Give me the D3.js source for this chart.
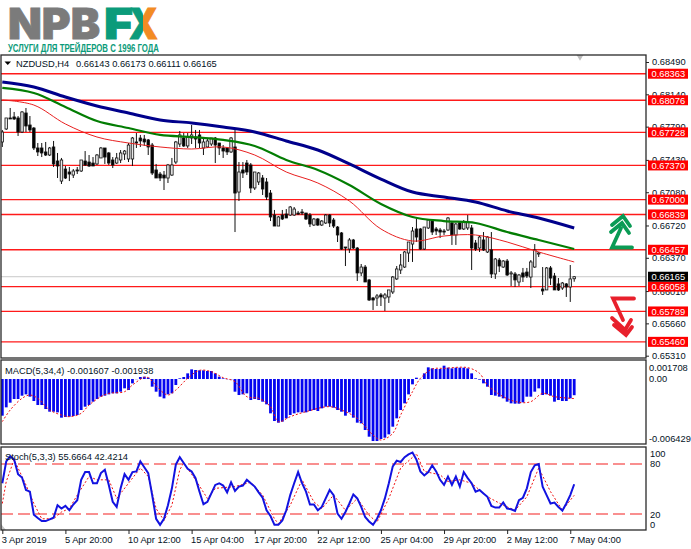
<!DOCTYPE html>
<html>
<head>
<meta charset="utf-8">
<script src="https://cdn.jsdelivr.net/npm/d3@7"></script>
<style>
  body { margin: 0; background: #fff; }
  text { font-family: "Liberation Sans", Arial, sans-serif; }
</style>
</head>
<body>
<div id="chart"></div>
<script>
const candleOpen = [
  0.67624,0.67765,0.67884,0.67895,0.67884,0.67732,0.67938,0.67808,0.67775,0.67559,
  0.67559,0.67516,0.67483,0.67570,0.67418,0.67201,0.67331,0.67299,0.67266,0.67321,
  0.67310,0.67418,0.67407,0.67396,0.67386,0.67451,0.67559,0.67505,0.67429,0.67396,
  0.67429,0.67494,0.67440,0.67440,0.67624,0.67667,0.67656,0.67646,0.67591,0.67321,
  0.67277,0.67266,0.67234,0.67266,0.67407,0.67602,0.67667,0.67581,0.67667,0.67678,
  0.67700,0.67559,0.67570,0.67602,0.67667,0.67613,0.67559,0.67559,0.67516,0.67570,
  0.67082,0.67321,0.67396,0.67375,0.67126,0.67191,0.67234,0.67191,0.67071,0.66833,
  0.66714,0.66833,0.66844,0.66833,0.66833,0.66855,0.66866,0.66855,0.66833,0.66725,
  0.66790,0.66725,0.66747,0.66833,0.66779,0.66703,0.66639,0.66487,0.66465,0.66563,
  0.66476,0.66206,0.66270,0.66130,0.65935,0.65935,0.65968,0.65935,0.65946,0.66000,
  0.66141,0.66238,0.66270,0.66422,0.66519,0.66682,0.66682,0.66465,0.66693,0.66768,
  0.66682,0.66671,0.66660,0.66671,0.66747,0.66617,0.66747,0.66682,0.66693,0.66693,
  0.66530,0.66476,0.66563,0.66433,0.66455,0.66195,0.66346,0.66270,0.66335,0.66195,
  0.66195,0.66108,0.66206,0.66216,0.66162,0.66270,0.66411,0.66032,0.66022,0.66260,
  0.66173,0.66087,0.66043,0.66087,0.66054,0.66143];
const candleHigh = [
  0.67754,0.67884,0.67992,0.67949,0.67905,0.67959,0.67992,0.67905,0.67786,0.67613,
  0.67613,0.67624,0.67570,0.67635,0.67505,0.67451,0.67364,0.67353,0.67331,0.67353,
  0.67429,0.67526,0.67483,0.67461,0.67494,0.67570,0.67559,0.67516,0.67461,0.67505,
  0.67537,0.67537,0.67613,0.67678,0.67721,0.67700,0.67700,0.67656,0.67613,0.67386,
  0.67299,0.67310,0.67386,0.67451,0.67635,0.67743,0.67721,0.67721,0.67808,0.67754,
  0.67754,0.67667,0.67667,0.67667,0.67678,0.67613,0.67591,0.67570,0.67678,0.67754,
  0.67407,0.67407,0.67429,0.67396,0.67299,0.67299,0.67266,0.67234,0.67104,0.66888,
  0.66823,0.66888,0.66898,0.66931,0.66920,0.66877,0.66898,0.66855,0.66855,0.66801,
  0.66801,0.66779,0.66844,0.66844,0.66801,0.66714,0.66649,0.66487,0.66584,0.66574,
  0.66487,0.66303,0.66292,0.66141,0.65946,0.65978,0.65989,0.65989,0.66022,0.66173,
  0.66281,0.66411,0.66444,0.66541,0.66703,0.66790,0.66693,0.66703,0.66790,0.66779,
  0.66703,0.66693,0.66682,0.66812,0.66768,0.66747,0.66768,0.66779,0.66833,0.66725,
  0.66563,0.66606,0.66649,0.66606,0.66649,0.66368,0.66368,0.66346,0.66357,0.66227,
  0.66216,0.66195,0.66260,0.66260,0.66346,0.66519,0.66433,0.66270,0.66270,0.66281,
  0.66206,0.66151,0.66108,0.66097,0.66292,0.66173];
const candleLow = [
  0.67570,0.67754,0.67873,0.67862,0.67689,0.67721,0.67732,0.67732,0.67537,0.67472,
  0.67461,0.67472,0.67472,0.67353,0.67234,0.67169,0.67223,0.67201,0.67234,0.67277,
  0.67299,0.67364,0.67353,0.67364,0.67375,0.67451,0.67386,0.67375,0.67342,0.67386,
  0.67396,0.67429,0.67407,0.67364,0.67559,0.67570,0.67581,0.67483,0.67266,0.67234,
  0.67201,0.67104,0.67180,0.67256,0.67386,0.67570,0.67570,0.67559,0.67602,0.67559,
  0.67559,0.67483,0.67559,0.67581,0.67396,0.67483,0.67451,0.67483,0.67505,0.66649,
  0.66985,0.67234,0.67266,0.67071,0.67104,0.67158,0.67050,0.66996,0.66768,0.66714,
  0.66714,0.66779,0.66801,0.66823,0.66823,0.66833,0.66833,0.66779,0.66703,0.66714,
  0.66714,0.66714,0.66736,0.66703,0.66693,0.66541,0.66455,0.66281,0.66422,0.66465,
  0.66119,0.66173,0.66108,0.65902,0.65805,0.65848,0.65848,0.65794,0.65881,0.65978,
  0.66130,0.66195,0.66260,0.66325,0.66325,0.66541,0.66455,0.66455,0.66682,0.66617,
  0.66617,0.66584,0.66617,0.66660,0.66509,0.66509,0.66671,0.66671,0.66671,0.66238,
  0.66444,0.66433,0.66444,0.66422,0.66151,0.66141,0.66216,0.66260,0.66173,0.66065,
  0.66054,0.66065,0.66108,0.66151,0.66043,0.66260,0.66379,0.65968,0.66022,0.66076,
  0.66022,0.66011,0.66022,0.65946,0.65892,0.66111];
const candleClose = [
  0.67732,0.67884,0.67873,0.67873,0.67732,0.67949,0.67797,0.67754,0.67559,0.67516,
  0.67505,0.67483,0.67559,0.67386,0.67364,0.67429,0.67234,0.67277,0.67310,0.67310,
  0.67429,0.67375,0.67364,0.67364,0.67483,0.67559,0.67461,0.67396,0.67375,0.67451,
  0.67505,0.67526,0.67591,0.67667,0.67613,0.67635,0.67624,0.67570,0.67288,0.67234,
  0.67234,0.67234,0.67375,0.67375,0.67624,0.67700,0.67581,0.67678,0.67700,0.67656,
  0.67613,0.67624,0.67635,0.67667,0.67591,0.67559,0.67526,0.67516,0.67667,0.67071,
  0.67299,0.67288,0.67299,0.67126,0.67299,0.67288,0.67115,0.67028,0.66812,0.66714,
  0.66812,0.66790,0.66801,0.66920,0.66898,0.66844,0.66855,0.66790,0.66736,0.66790,
  0.66725,0.66768,0.66833,0.66747,0.66714,0.66617,0.66465,0.66476,0.66563,0.66476,
  0.66206,0.66270,0.66108,0.65913,0.65913,0.65957,0.65946,0.65968,0.66022,0.66162,
  0.66249,0.66292,0.66433,0.66541,0.66660,0.66595,0.66465,0.66703,0.66779,0.66649,
  0.66660,0.66649,0.66649,0.66801,0.66617,0.66736,0.66682,0.66758,0.66758,0.66476,
  0.66465,0.66595,0.66455,0.66595,0.66195,0.66357,0.66281,0.66335,0.66184,0.66206,
  0.66130,0.66184,0.66162,0.66173,0.66325,0.66455,0.66422,0.66011,0.66260,0.66151,
  0.66022,0.66022,0.66097,0.66054,0.66141,0.66165];

// moving averages read at every 8th bar
const maBars = [0,8,16,24,32,40,48,56,64,72,80,88,96,104,112,120,128,136,145];
const maBlue = [0.68273,0.68219,0.68111,0.68014,0.67938,0.67862,0.67830,0.67786,0.67732,0.67635,0.67537,0.67386,0.67223,0.67082,0.67028,0.66974,0.66877,0.66801,0.66693];
const maGreen = [0.68209,0.68154,0.68003,0.67851,0.67775,0.67700,0.67678,0.67646,0.67581,0.67429,0.67321,0.67158,0.66953,0.66812,0.66768,0.66747,0.66649,0.66563,0.66465];
const maRed = [0.68079,0.68024,0.67819,0.67678,0.67613,0.67570,0.67548,0.67570,0.67483,0.67299,0.67180,0.66985,0.66682,0.66552,0.66606,0.66617,0.66541,0.66433,0.66325];

const levels = [0.68363,0.68076,0.67728,0.67370,0.67000,0.66839,0.66457,0.66058,0.65789,0.65460];
const priceTicks = [0.68490,0.68140,0.67790,0.67430,0.67080,0.66720,0.66370,0.66010,0.65660,0.65310];
const lastPrice = 0.66165;

const macdHist = [
  -0.003639,-0.002812,-0.002349,-0.001985,-0.001985,-0.001654,-0.001522,-0.001753,-0.002183,-0.002580,
  -0.002580,-0.002977,-0.003242,-0.003242,-0.003308,-0.003837,-0.003771,-0.003738,-0.003672,-0.003573,
  -0.003076,-0.002746,-0.002580,-0.002249,-0.001985,-0.001753,-0.001654,-0.001522,-0.001422,-0.001422,
  -0.001257,-0.000926,-0.001092,-0.000430,-0.000020,0.000198,0.000232,0.000132,-0.000761,-0.001257,
  -0.001753,-0.001919,-0.001522,-0.001422,-0.000595,0.000066,0.000198,0.000562,0.000959,0.000893,
  0.000860,0.000860,0.000794,0.000794,0.000562,0.000232,0.000066,-0.000020,-0.000033,-0.001257,
  -0.001588,-0.001522,-0.001422,-0.002084,-0.001985,-0.002084,-0.002249,-0.002514,-0.003407,-0.004168,
  -0.004333,-0.004234,-0.003903,-0.003573,-0.003407,-0.003308,-0.003308,-0.003308,-0.003176,-0.003076,
  -0.003176,-0.002911,-0.002746,-0.002746,-0.002845,-0.003076,-0.003242,-0.003639,-0.003308,-0.003837,
  -0.004333,-0.004399,-0.005061,-0.005723,-0.006153,-0.006153,-0.005954,-0.005822,-0.005491,-0.004730,
  -0.003903,-0.003076,-0.002415,-0.001522,-0.000529,0.000132,-0.000020,0.000562,0.001158,0.001059,
  0.000992,0.000992,0.001323,0.001125,0.001059,0.001125,0.001125,0.001125,0.001059,0.000562,
  0.000066,-0.000066,-0.000430,-0.000761,-0.001588,-0.001654,-0.001753,-0.001919,-0.002249,-0.002415,
  -0.002448,-0.002448,-0.002316,-0.001753,-0.001753,-0.001257,-0.000926,-0.001588,-0.001522,-0.001654,
  -0.002249,-0.002084,-0.002183,-0.002183,-0.001919,-0.001607];
const macdSignalBars = [0,2,5,7,9,12,15,17,20,22,25,27,31,33,36,37,40,42,44,47,50,53,56,59,62,65,68,70,73,77,83,87,90,94,96,99,101,104,106,109,112,118,121,123,127,131,134,137,140,145];
const macdSignal = [
  -0.004234,-0.003076,-0.001919,-0.001588,-0.001919,-0.003076,-0.003573,-0.003738,-0.003407,-0.002580,
  -0.001753,-0.001422,-0.001257,-0.000595,0.000165,0.000132,-0.001092,-0.001588,-0.001092,0.000066,
  0.000860,0.000728,0.000132,-0.000265,-0.001753,-0.001919,-0.002746,-0.004234,-0.003738,-0.003242,
  -0.002746,-0.003242,-0.003903,-0.005557,-0.006054,-0.005392,-0.003573,-0.001257,0.000066,0.000992,
  0.001059,0.001125,0.000562,-0.000595,-0.001753,-0.002316,-0.002249,-0.001422,-0.001753,-0.001938];

const stochMain = [
  56.9,83.2,89.3,85.3,67.8,63.8,48.8,46.8,19.2,15.2,
  11.5,11.5,13.5,15.6,30.6,26.5,29.7,24.5,31.4,36.6,
  61.0,70.3,70.3,56.9,56.9,69.1,73.1,54.9,34.6,28.5,
  50.8,67.8,61.0,70.3,71.1,83.2,76.0,69.1,42.7,14.3,
  7.0,14.3,30.6,50.8,79.2,88.1,81.2,74.3,71.1,63.0,
  46.8,31.8,34.6,44.7,54.9,56.9,54.1,46.0,58.1,47.6,
  52.9,54.1,61.0,56.9,52.9,46.0,39.5,24.5,17.6,7.0,
  7.0,12.3,24.5,42.7,56.9,70.3,56.9,46.8,31.4,31.4,
  24.5,28.5,38.7,48.8,42.7,20.4,14.3,22.4,32.6,43.5,
  38.7,28.5,16.4,11.1,7.0,14.3,24.5,38.7,56.9,77.2,
  84.0,82.4,88.1,91.4,93.8,85.3,71.1,66.2,70.3,78.4,
  71.1,61.0,54.9,65.0,54.9,65.0,52.9,70.3,63.0,56.9,
  46.8,48.8,44.7,40.7,29.7,27.7,27.7,33.8,26.5,25.7,
  23.7,36.6,39.5,50.8,70.3,78.4,80.0,52.9,42.7,32.6,
  33.8,28.5,24.1,32.6,42.7,55.67];
const stochSignalBars = [0,1,3,4,6,8,10,13,15,17,19,22,24,27,29,32,35,37,39,41,43,45,46,49,52,54,59,63,66,69,70,73,76,79,81,84,87,90,93,95,98,101,105,107,111,113,116,119,123,127,130,133,136,139,142,145];
const stochSignal = [
  32.6,58.9,85.3,75.1,54.9,32.6,14.3,14.3,22.4,26.5,
  42.7,65.0,61.0,61.0,38.7,56.9,75.1,65.0,26.5,12.3,
  30.6,73.1,81.2,61.0,38.7,50.8,52.9,58.1,42.7,14.3,
  8.3,30.6,61.0,34.6,26.5,42.7,24.5,38.7,18.4,10.3,
  38.7,75.1,92.2,71.1,67.0,58.9,61.0,56.9,40.7,30.6,
  24.5,40.7,75.1,46.8,24.5,42.42];
const stochLevels = [80, 20];

const timeTicks = [0,16,32,48,64,80,96,112,128,144];
const timeLabels = ["3 Apr 2019","5 Apr 20:00","10 Apr 12:00","15 Apr 04:00","17 Apr 20:00","22 Apr 12:00","25 Apr 04:00","29 Apr 20:00","2 May 12:00","7 May 04:00"];

const width = 691, height = 549;
const panelLeft = 1, panelRight = 646;
const fontSize = 9.3;
const textColor = "#04121e";

const svg = d3.select("#chart").append("svg")
  .attr("width", width).attr("height", height)
  .style("display", "block");

const x = d3.scaleLinear().domain([0, 145]).range([2.3, 574.2]);
const yPrice = d3.scaleLinear().domain([0.6849, 0.6531]).range([62, 355.7]);
const yMacd = d3.scaleLinear().domain([0.001708, -0.006429]).range([361.8, 443.8]);
const yStoch = d3.scaleLinear().domain([100, 0]).range([447.3, 530.7]);

// logo
const logo = svg.append("g");
const logoFont = "Inter, 'Liberation Sans', sans-serif";
const logoText = (s, lx, len, c) => logo.append("text").text(s)
  .attr("x", lx).attr("y", 39)
  .attr("textLength", len).attr("lengthAdjust", "spacingAndGlyphs")
  .style("font-family", logoFont).style("font-weight", 900).style("font-size", "42px")
  .attr("fill", c).attr("stroke", c).attr("stroke-width", 0.8);
logoText("NPB", 8, 92, "#7b7b7b");
logoText("F", 104, 29, "#0b9b7a");
const defs = svg.append("defs");
defs.append("clipPath").attr("id", "xGreen").append("rect").attr("x", 125).attr("y", 5).attr("width", 18).attr("height", 40);
defs.append("clipPath").attr("id", "xOrange").append("rect").attr("x", 143).attr("y", 5).attr("width", 20).attr("height", 40);
logoText("X", 129, 29, "#0b9b7a").attr("clip-path", "url(#xGreen)");
logoText("X", 129, 29, "#f28b24").attr("clip-path", "url(#xOrange)");
logo.append("text").text("УСЛУГИ ДЛЯ ТРЕЙДЕРОВ С 1996 ГОДА")
  .attr("x", 8).attr("y", 52)
  .attr("textLength", 151).attr("lengthAdjust", "spacingAndGlyphs")
  .style("font-family", "'Liberation Sans Narrow', 'Liberation Sans', sans-serif")
  .style("font-weight", 700).style("font-size", "10.5px")
  .attr("fill", "#0b9b7a");

// clips for each panel
const addClip = (id, y0, y1) => defs.append("clipPath").attr("id", id).append("rect")
  .attr("x", panelLeft).attr("y", y0).attr("width", panelRight - panelLeft).attr("height", y1 - y0);
addClip("mainClip", 55, 358);
addClip("macdClip", 360, 444);
addClip("stochClip", 447, 530);

// main panel
const main = svg.append("g").attr("clip-path", "url(#mainClip)");

main.append("line")
  .attr("x1", panelLeft).attr("x2", panelRight)
  .attr("y1", yPrice(lastPrice)).attr("y2", yPrice(lastPrice))
  .attr("stroke", "#c8c8c8").attr("stroke-width", 1);

main.selectAll(".level").data(levels).enter().append("line")
  .attr("class", "level")
  .attr("x1", panelLeft).attr("x2", panelRight)
  .attr("y1", d => yPrice(d)).attr("y2", d => yPrice(d))
  .attr("stroke", "#ff1a1a").attr("stroke-width", 1.3);

const candle = main.selectAll(".candle").data(candleOpen).enter().append("g").attr("class", "candle");
candle.append("line")
  .attr("x1", (d, i) => x(i)).attr("x2", (d, i) => x(i))
  .attr("y1", (d, i) => yPrice(candleHigh[i])).attr("y2", (d, i) => yPrice(candleLow[i]))
  .attr("stroke", "#111").attr("stroke-width", 1);
candle.append("rect")
  .attr("x", (d, i) => x(i) - 1.25)
  .attr("width", 2.5)
  .attr("y", (d, i) => Math.min(yPrice(d), yPrice(candleClose[i])))
  .attr("height", (d, i) => Math.max(0.6, Math.abs(yPrice(d) - yPrice(candleClose[i]))))
  .attr("fill", (d, i) => candleClose[i] > d ? "#e8e8e8" : "#000")
  .attr("stroke", "#111").attr("stroke-width", 0.8);

const maLine = d3.line()
  .x((d, i) => x(maBars[i]))
  .y(d => yPrice(d))
  .curve(d3.curveCatmullRom);
main.append("path").attr("d", maLine(maRed)).attr("fill", "none").attr("stroke", "#e82020").attr("stroke-width", 1);
main.append("path").attr("d", maLine(maGreen)).attr("fill", "none").attr("stroke", "#037d03").attr("stroke-width", 2.2);
main.append("path").attr("d", maLine(maBlue)).attr("fill", "none").attr("stroke", "#00008b").attr("stroke-width", 3);

// shift marker
main.append("path").attr("d", d3.symbol(d3.symbolTriangle, 30)()).attr("transform", "translate(580,56) rotate(180)").attr("fill", "#bdbdbd");

// macd panel
const macd = svg.append("g").attr("clip-path", "url(#macdClip)");
macd.selectAll("rect").data(macdHist).enter().append("rect")
  .attr("x", (d, i) => x(i) - 1.4)
  .attr("width", 2.8)
  .attr("y", d => Math.min(yMacd(d), yMacd(0)))
  .attr("height", d => Math.abs(yMacd(d) - yMacd(0)))
  .attr("fill", "#0505f0");
macd.append("path")
  .attr("d", d3.line().x((d, i) => x(macdSignalBars[i])).y(d => yMacd(d)).curve(d3.curveCatmullRom)(macdSignal))
  .attr("fill", "none").attr("stroke", "#f01010").attr("stroke-width", 1).attr("stroke-dasharray", "2 2");

// stochastic panel
const stoch = svg.append("g").attr("clip-path", "url(#stochClip)");
stoch.selectAll("line").data(stochLevels).enter().append("line")
  .attr("x1", panelLeft).attr("x2", panelRight)
  .attr("y1", d => yStoch(d)).attr("y2", d => yStoch(d))
  .attr("stroke", "#f42020").attr("stroke-width", 1.2).attr("stroke-dasharray", "12 5");
stoch.append("path")
  .attr("d", d3.line().x((d, i) => x(stochSignalBars[i])).y(d => yStoch(d))(stochSignal))
  .attr("fill", "none").attr("stroke", "#f01010").attr("stroke-width", 1).attr("stroke-dasharray", "2 2");
stoch.append("path")
  .attr("d", d3.line().x((d, i) => x(i)).y(d => yStoch(d))(stochMain))
  .attr("fill", "none").attr("stroke", "#1212e0").attr("stroke-width", 2);
stoch.append("path").attr("d", "M1,524 L6,530 L1,530 Z").attr("fill", "#c4c4c4");

// panel frames
[[55, 358], [360, 444], [447, 530]].forEach(p => {
  svg.append("rect")
    .attr("x", panelLeft).attr("y", p[0])
    .attr("width", panelRight - panelLeft).attr("height", p[1] - p[0])
    .attr("fill", "none").attr("stroke", "#2a2a2a").attr("stroke-width", 1.3);
});

// axes
const styleAxis = g => {
  g.select(".domain").remove();
  g.selectAll("line").attr("stroke", "#222");
  g.selectAll("text").style("font-size", fontSize + "px").attr("fill", textColor);
};
svg.append("g")
  .attr("transform", `translate(${panelRight},0)`)
  .call(d3.axisRight(yPrice).tickValues(priceTicks).tickSize(3).tickPadding(3).tickFormat(d3.format(".5f")))
  .call(styleAxis);

svg.append("g")
  .attr("transform", `translate(0,530)`)
  .call(d3.axisBottom(x).tickValues(timeTicks).tickSize(4).tickPadding(2).tickFormat((d, i) => timeLabels[i]))
  .call(styleAxis)
  .call(g => g.selectAll("text").attr("text-anchor", "start").attr("dx", "-1"));

svg.append("g")
  .attr("transform", `translate(${panelRight},0)`)
  .call(d3.axisRight(yStoch).tickValues([100, 80, 20, 0]).tickSize(0).tickPadding(4))
  .call(styleAxis)
  .call(g => g.selectAll("text")
    .attr("transform", d => d === 100 ? "translate(0,6)" : d === 0 ? "translate(0,-6)" : null));

svg.append("g")
  .attr("transform", `translate(${panelRight},0)`)
  .call(d3.axisRight(yMacd).tickValues([0.001708, 0, -0.006429]).tickSize(0).tickPadding(3)
    .tickFormat(d => d === 0 ? "0.00" : d.toFixed(6)))
  .call(styleAxis)
  .call(g => g.selectAll("text").attr("transform", d => d === 0.001708 ? "translate(0,6)" : d === -0.006429 ? "translate(0,-5)" : null));

// price labels on the right
const tag = svg.append("g");
const tagRow = (v, bg) => {
  const g = tag.append("g").attr("transform", `translate(648,${yPrice(v)})`);
  g.append("rect").attr("x", 0).attr("y", -5).attr("width", 40).attr("height", 10).attr("fill", bg);
  g.append("text").text(d3.format(".5f")(v)).attr("x", 3.5).attr("y", 3.4)
    .style("font-size", fontSize + "px").attr("fill", "#fff");
};
levels.forEach(v => tagRow(v, "#ff0000"));
tagRow(lastPrice, "#000");

// text headers
const header = (s, tx, ty) => svg.append("text").text(s).attr("x", tx).attr("y", ty)
  .style("font-size", fontSize + "px").attr("fill", textColor);
svg.append("path").attr("d", "M4.5,61.5 L11,61.5 L7.75,65 Z").attr("fill", "#000");
header("NZDUSD,H4", 16, 66.5);
header("0.66143 0.66173 0.66111 0.66165", 76, 66.5);
header("MACD(5,34,4) -0.001607 -0.001938", 5, 373.5);
header("Stoch(5,3,3) 55.6664 42.4214", 5, 459.5);

// direction arrows
const arrow = (d, c) => svg.append("path").attr("d", d)
  .attr("fill", "none").attr("stroke", c).attr("stroke-width", 3.8)
  .attr("stroke-linecap", "round").attr("stroke-linejoin", "miter");
arrow("M632,247.5 L612,247.5 L621,228 M611,232 L622,223 L629,233 M612,225 L623,216 L630,226", "#0a9b55");
arrow("M634,298.5 L613,298.5 L623,320 M612,318 L625,330 L631,320 M614,325 L626,335 L632,327", "#e8202c");
</script>
</body>
</html>
